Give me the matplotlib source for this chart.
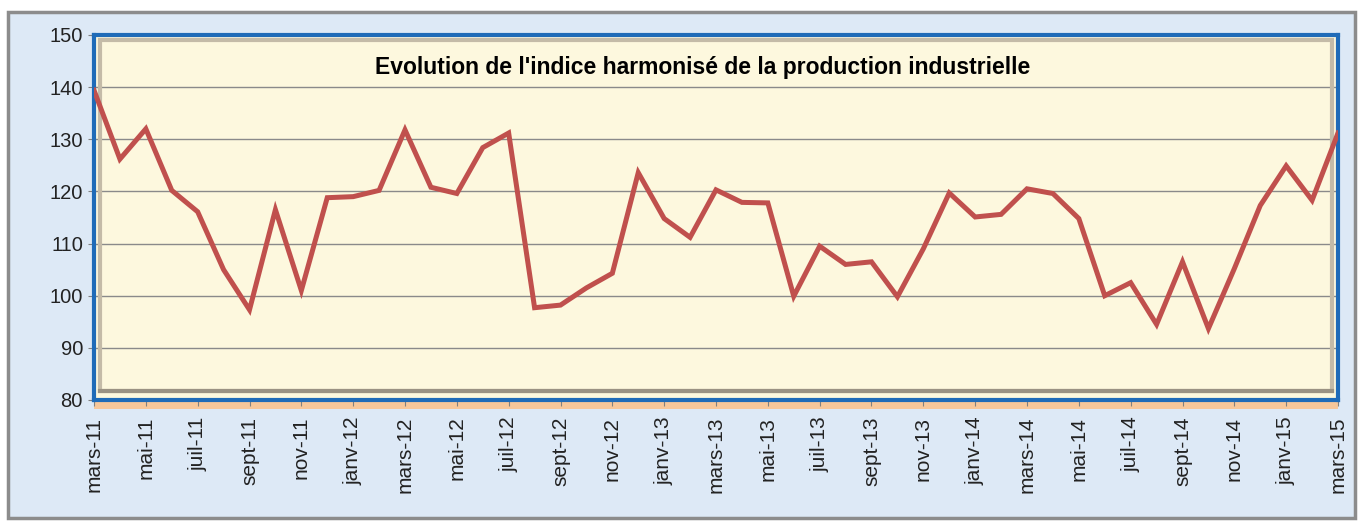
import matplotlib.pyplot as plt
from matplotlib.patches import Rectangle

months = ['janv', 'févr', 'mars', 'avr', 'mai', 'juin', 'juil', 'août',
          'sept', 'oct', 'nov', 'déc']
# mars-11 .. mars-15, one value per month
labels = []
for i in range(49):
    m = (2 + i) % 12
    y = 11 + (2 + i) // 12
    labels.append('%s-%d' % (months[m], y))

values = [139.4, 126.2, 132.0, 120.2, 116.1, 105.0, 97.3, 116.5, 101.0, 118.8,
          119.0, 120.2, 131.8, 120.8, 119.6, 128.4, 131.2, 97.7, 98.2, 101.5,
          104.3, 123.6, 114.8, 111.2, 120.3, 117.9, 117.8, 99.9, 109.5, 106.0,
          106.5, 99.8, 109.0, 119.7, 115.1, 115.6, 120.5, 119.6, 114.8, 100.0,
          102.5, 94.5, 106.5, 93.7, 105.2, 117.3, 124.9, 118.3, 131.2]

fig = plt.figure(figsize=(13.63, 5.22), dpi=100)
fig.patch.set_facecolor('white')
# outer frame of the chart
fig.patches.append(Rectangle((0.006, 0.008), 0.988, 0.969, transform=fig.transFigure,
                             facecolor='#dde9f6', edgecolor='#8c8c8c', linewidth=2.5,
                             zorder=-5))

ax = fig.add_axes([94 / 1363, 1 - 400 / 522, (1338 - 94) / 1363, (400 - 35) / 522])
ax.set_zorder(2)
ax.set_facecolor('#fdf8de')

# bevel inside the plot area
ax.add_patch(Rectangle((0.005, 0.025), 0.99, 0.96, transform=ax.transAxes,
                       fill=False, edgecolor='#c4bba8', linewidth=3, zorder=1))
ax.plot([0.005, 0.995], [0.025, 0.025], transform=ax.transAxes, color='#9a9283',
        linewidth=3, zorder=1)
ax.add_patch(Rectangle((0.0, -0.025), 1.0, 0.025, transform=ax.transAxes,
                       facecolor='#f7c79a', edgecolor='none', clip_on=False, zorder=0))

x = list(range(len(values)))
ax.plot(x, values, color='#c0504d', linewidth=3.6, solid_joinstyle='miter', zorder=3)

ax.set_xlim(0, len(values) - 1)
ax.set_ylim(80, 150)
ax.set_yticks(range(80, 151, 10))
ax.set_xticks(x[::2])
ax.set_xticklabels(labels[::2], rotation=90, fontsize=15, family='Liberation Sans',
                   color='#222222')
for t in ax.get_yticklabels():
    t.set_fontsize(14.5)
    t.set_family('Liberation Sans')
    t.set_color('#222222')

ax.grid(axis='y', color='#8a8a8a', linewidth=1)
ax.set_axisbelow(True)
ax.tick_params(axis='x', length=4, color='#808080', pad=8)
ax.tick_params(axis='y', length=4, color='#808080', pad=4)
for s in ax.spines.values():
    s.set_color('#1f6bb8')
    s.set_linewidth(3)

ax.text(0.489, 0.91, "Evolution de l'indice harmonisé de la production industrielle",
        transform=ax.transAxes, ha='center', va='center', fontsize=16.5,
        fontweight='bold', family='Liberation Sans', color='black', zorder=4)

fig.savefig('out.png', dpi=100, facecolor=fig.get_facecolor())
